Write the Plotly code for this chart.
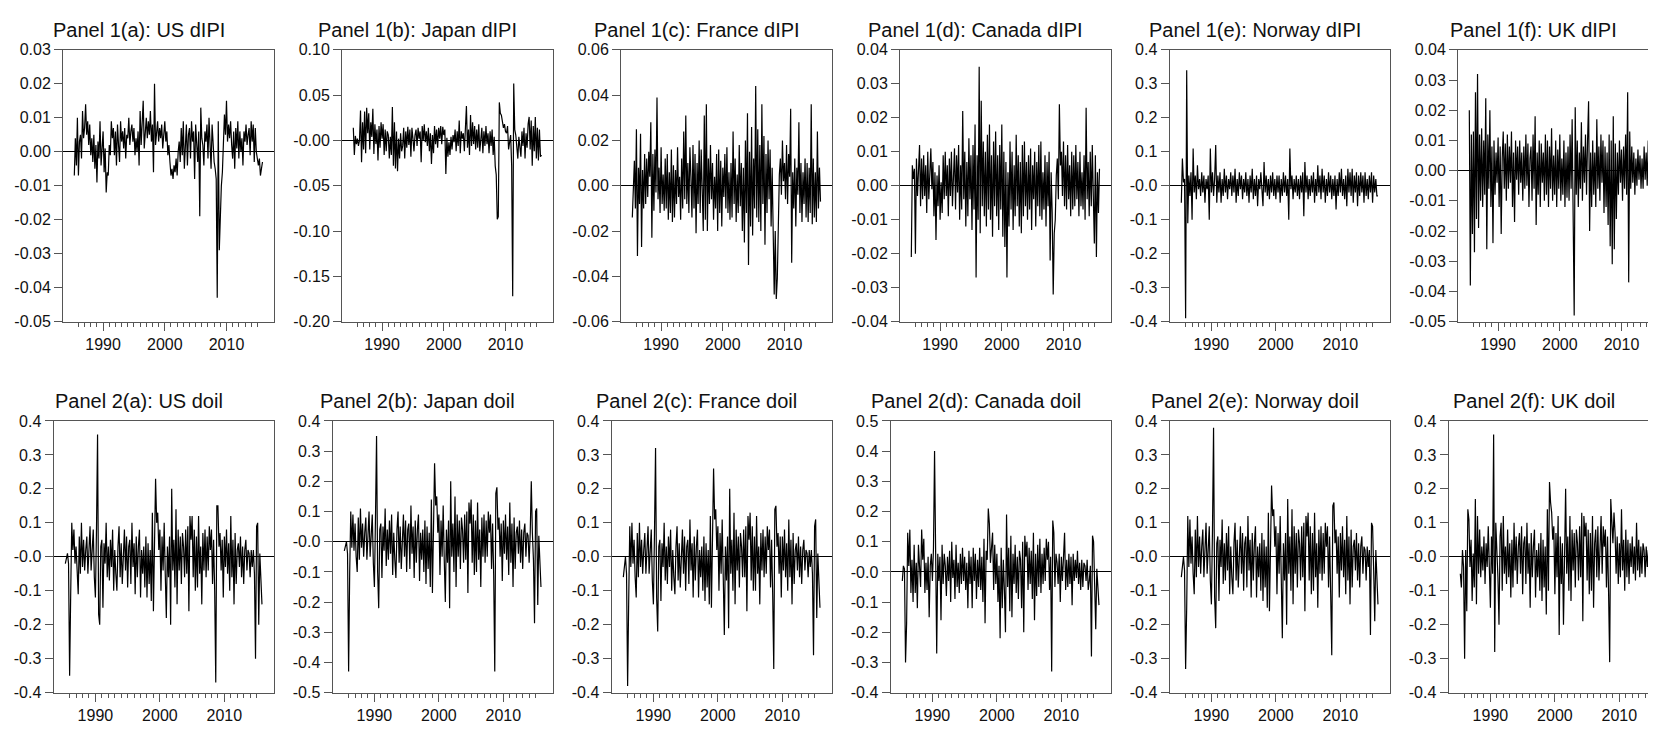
import plotly.graph_objects as go

# The page body keeps the browser's default 8px margin, so the figure is sized to
# fill the rest of the 1656x730 window and all pixel geometry is offset by 8.
PAGE_W, PAGE_H = 1656, 730
BODY_MARGIN = 8
FIG_W, FIG_H = PAGE_W - BODY_MARGIN, PAGE_H - BODY_MARGIN

# ---------------- data (sampled every 2 months from mid-1985) ----------------
START_YEAR = 1985 + 4 / 12
STEP_YEARS = 2 / 12
X_RANGE = [1983.5, 2017.7]
MAJOR_YEARS = [1990, 2000, 2010]
MAJOR_LABELS = ["1990", "2000", "2010"]
MINOR_YEARS = list(range(1986, 2016))

titles = [
    "Panel 1(a): US dIPI", "Panel 1(b): Japan dIPI", "Panel 1(c): France dIPI",
    "Panel 1(d): Canada dIPI", "Panel 1(e): Norway dIPI", "Panel 1(f): UK dIPI",
    "Panel 2(a): US doil", "Panel 2(b): Japan doil", "Panel 2(c): France doil",
    "Panel 2(d): Canada doil", "Panel 2(e): Norway doil", "Panel 2(f): UK doil",
]

# dIPI series in units of 0.001 (Norway in 0.01)
us_dipi = [-7, 4, -4, 10, -7, 3, 5, -2, 12, 4, 7, 14,
           5, 9, 2, 8, -1, 4, -3, 5, -5, 2, -9, 3,
           -2, 9, -4, 3, 6, -6, 1, -12, -6, -7, 2, -1,
           9, 4, 7, -1, 6, -4, 8, 2, -3, 9, 3, 6,
           1, 7, -2, 5, 4, 10, 2, 6, 8, 3, 7, -1,
           4, 0, 6, -4, 12, 2, 8, 15, 1, 6, 10, 4,
           9, 5, 12, 3, 8, -6, 20, 2, 6, 9, 3, 7,
           4, 8, 1, 5, 9, 3, 6, -1, 2, -3, -7, -5,
           -8, -4, -6, -2, -7, 0, 3, -3, 7, -1, 9, -5,
           2, 8, -4, 5, 7, -2, 9, 3, 6, -8, 8, 2,
           -3, 6, -19, 13, 4, 2, -4, 6, 3, 8, -2, 10,
           4, -5, 8, 1, -3, -5, -8, -43, 9, -29, -15, -10,
           -6, 3, 11, 5, 15, 3, 8, 4, 9, 2, -2, 6,
           -5, 7, 1, 9, -2, 6, 0, 4, -4, 6, 3, 8,
           2, 5, 7, -1, 9, 3, 8, -3, 7, 0, -3, -4,
           -2, -7, -5, -3]
japan_dipi = [14, -16, 5, -4, 2, -6, 0, 33, -24, 20, -10, 32,
              -14, 36, 8, 30, -10, 20, 4, 35, -15, 18, -4, 12,
              -22, 16, -8, 20, 2, 18, -16, 12, -12, 10, 6, -20,
              4, -16, 37, -28, 20, -31, 10, -34, 2, -20, 8, -12,
              -6, 14, -20, 10, -8, 15, -5, 12, -18, 14, 2, -12,
              6, 12, -6, 14, 2, 10, -24, 16, 0, 18, -2, 10,
              -6, 14, -12, 8, -26, 6, -14, 16, -4, 12, -8, 14,
              2, 16, -4, 15, 6, 12, -37, 3, -18, -2, -16, 4,
              -10, 6, -2, 12, -12, 10, -6, 22, -14, 10, 2, 8,
              -12, 14, 38, -8, 12, -16, 28, -6, 20, -4, 16, -10,
              12, -8, 18, -12, 6, 14, -14, 10, -6, 16, -4, 8,
              -14, 10, -6, 12, -16, 4, -28, -38, -87, -84, 42, 30,
              28, 20, 14, 18, 10, 8, 16, -10, -4, 6, -28, -172,
              63, 12, 6, -10, -20, 4, -12, -18, 10, -6, 14, -20,
              8, -8, 18, 26, -10, 22, -28, 16, -12, 26, -20, 14,
              -22, 12, -18, -16]
france_dipi = [-14, 2, 11, -10, 25, -31, 8, -8, 23, -27, 7, -10,
               14, -8, 12, -5, 15, 4, 28, -23, 14, -11, 16, -3,
               39, -6, 8, -12, 17, -8, 5, -11, 12, -10, 14, -15,
               6, -12, 16, -16, 9, -14, 7, -8, 17, -5, 4, -15,
               12, -10, 24, -6, 31, -8, 10, -12, 17, 4, -14, 18,
               -10, 14, -21, 10, -8, 20, -12, 16, 2, -20, 31, -15,
               36, -20, 12, -8, 18, -6, 10, -15, 4, -10, 14, -20,
               16, -12, 11, -18, 8, -5, 14, -10, 17, -12, 6, -15,
               10, -14, 24, -8, 12, -16, 5, -12, 18, -9, 10, -20,
               8, -25, 20, -12, 32, -35, 15, -18, 26, -22, 12, -10,
               44, -14, 25, -16, 18, -20, 36, -8, 22, -26, 14, -12,
               20, -6, 16, -18, 8, -16, -48, -20, -50, -41, -15, 5,
               12, -4, 20, 2, 10, -6, 18, -8, 14, 4, 34, -34,
               6, -10, 12, -18, 8, -4, 28, -12, 10, -16, 6, -8,
               12, -14, 10, -16, 8, -12, 36, -17, 12, -14, 6, -16,
               24, -10, 8, -7]
canada_dipi = [-21, 6, 2, 5, -20, 8, -3, 4, 12, -6, 8, -4,
               9, -3, 6, -8, 10, -4, 3, 11, -1, 7, -9, 4,
               -16, 3, -6, 6, -10, 1, -8, 9, -4, 10, -3, 6,
               -9, 8, -3, 10, -6, 4, 11, -7, 9, -2, 12, -10,
               6, -7, 22, -4, 10, -12, 7, -9, 14, -4, 9, -13,
               12, -7, 18, -27, 9, -10, 35, -14, 25, -6, 13, -9,
               10, -12, 15, -7, 18, -10, 9, -15, 13, -6, 16, -9,
               9, -13, 12, -7, 18, -15, 10, -18, 7, -27, 4, -12,
               13, -7, 10, -13, 6, -9, 15, -6, 9, -12, 7, -14,
               12, -9, 13, -6, 7, -10, 9, -7, 11, -13, 6, -4,
               10, -12, 7, -6, 12, -9, 13, -10, 4, -7, 9, -12,
               7, -6, 10, -22, 4, -8, -32, -14, -10, 3, 8, -4,
               24, 6, 10, -3, 13, -6, 9, -7, 12, -4, 6, -9,
               10, -7, 9, -6, 12, -4, 7, -9, 10, -6, 4, -7,
               9, -10, 23, -4, 7, -9, 10, -6, 12, -3, -17, 9,
               -21, 4, -8, 5]
norway_dipi = [-5, 8, 1, 2, -39, 34, -11, 3, -3, 4, -10, 11,
               -2, 3, -4, 6, -1, 2, -3, 4, -2, 3, -5, 2,
               -1, 3, -10, 11, -2, 4, -3, 2, 12, -5, 3, -2,
               4, -5, 2, -3, 5, -2, 3, -4, 2, -1, 4, -3,
               3, -2, 5, -5, 2, -3, 4, -1, 3, -4, 2, -2,
               4, -3, 2, -5, 3, -2, 5, -4, 2, -3, 3, -6,
               2, -1, 4, -3, -6, 7, -2, 3, -3, 2, -4, 3,
               -2, 4, -3, 2, -4, 3, -2, 3, -5, 2, -3, 4,
               -2, 3, -3, 2, -10, 11, -1, 3, -4, 2, -2, 3,
               -3, 2, -4, 3, -2, 4, -9, 7, -2, 3, -4, 2,
               -3, 3, -2, 4, -5, 2, -3, 6, -2, 3, -4, 5,
               -2, 3, -5, 2, -3, 4, -2, 3, -4, 2, -3, 3,
               -7, 2, -3, 4, -2, 5, -3, 2, -4, 3, -6, 5,
               -2, 4, -3, 5, -5, 3, -2, 4, -6, 3, -3, 4,
               -2, 3, -5, 4, -3, 2, -4, 3, -2, 4, -5, 3,
               -2, 2, -3, -3]
uk_dipi = [20, -38, 12, -21, 13, -27, 26, -16, 32, -19, 12, -10,
           14, -12, 10, -8, 24, -26, 12, -6, 20, -12, 8, -24,
           10, -8, 6, -4, 11, -12, 8, -21, 4, 13, -6, 9,
           -10, 12, -6, 8, -4, 13, -12, 6, -17, 10, -3, 8,
           -8, 10, -4, 6, -10, 8, -6, 12, -5, 9, -12, 4,
           8, -10, 12, -6, 18, -18, 6, -8, 10, -12, 9, -4,
           6, -10, 12, -8, 10, -12, 8, -6, 14, -10, 5, -8,
           10, -12, 7, -6, 12, -10, 4, -8, 10, -12, 6, -9,
           8, -10, 12, -6, 17, -12, -48, 21, -8, 10, -12, 6,
           -6, 16, -10, 8, -4, 12, -8, 10, 23, -20, 6, -12,
           10, -8, 6, -12, 17, -6, 8, -10, 12, -4, 10, -14,
           8, -12, 6, -18, 12, -25, 10, -31, 18, -26, 9, -16,
           6, -8, 10, -4, 7, -10, 8, -6, 12, -8, 26, -37,
           13, -6, 8, -4, 6, -8, 4, -5, 7, -3, 5, -6,
           4, -6, 8, -3, 6, -5, 10, -7, 4, -4, 6, -2,
           5, -3, 4, -2]

# doil series in units of 0.01
us_doil = [-2, 0, 1, -2, -35, -11, 10, 2, 8, -2, 3, -4,
           -11, 6, -5, 10, -3, 5, -4, 2, 6, -5, 3, 9,
           -4, 2, 8, -6, -12, 8, 36, -17, -20, 3, 5, -15,
           4, -2, 10, -6, 3, -7, 5, -3, 8, -10, 2, -5,
           -10, 3, 9, -6, 4, -8, 2, 8, -4, 6, -9, 3,
           5, -8, 10, -3, 4, -11, 6, -6, 3, 8, -12, 2,
           -5, 3, -9, 6, -12, 4, -8, 2, -13, 13, -16, 11,
           23, 10, 13, 2, 8, -10, 6, -4, 10, -5, -18, 3,
           -6, 6, -20, 20, -4, 5, -9, 14, -14, 8, -4, 6,
           -8, 7, 3, -6, 8, -5, 9, -16, 12, 5, 12, -6,
           8, -10, 6, -9, 12, -5, 3, -14, 7, -4, 8, -6,
           6, -4, 9, 2, 8, -8, 5, -10, -37, 15, 15, 3,
           7, -4, 5, -12, 6, -3, 8, -5, 4, -10, 12, -6,
           5, -14, 7, -8, 2, 4, -3, 6, -6, 3, -8, 2,
           5, -4, 2, 1, -6, 2, -3, 2, -5, -30, 9, 10,
           -20, 1, -8, -14]
japan_doil = [-3, -1, 0, -4, -43, -10, 10, -2, 9, -3, 6, -5,
              -10, 8, -6, 11, -2, 6, -5, 3, 8, -6, 2, 10,
              -5, 3, 9, -7, -15, 8, 35, -10, -22, 4, 6, -12,
              5, -3, 11, -8, 4, -6, 7, -4, 9, -11, 3, -6,
              -12, 4, 10, -7, 5, -9, 3, 9, -5, 7, -10, 4,
              6, -9, 12, -4, 5, -12, 7, -7, 4, 9, -13, 3,
              -6, 4, -10, 7, -14, 5, -9, 3, -15, 14, -17, 12,
              26, 12, 15, 3, 9, -11, 7, -5, 12, -6, -20, 4,
              -7, 7, -22, 20, -5, 6, -10, 15, -15, 9, -5, 7,
              -9, 8, 4, -7, 9, -6, 10, -17, 13, 6, 14, -7,
              9, -11, 7, -10, 13, -6, 4, -15, 8, -5, 9, -7,
              7, -5, 10, 3, 9, -9, 6, -11, -43, 16, 18, 4,
              8, -5, 6, -13, 7, -4, 9, -6, 5, -11, 13, -7,
              6, -15, 8, -9, 3, 5, -4, 7, -7, 4, -9, 3,
              6, -5, 3, 2, -7, 3, 20, 3, -6, -27, 10, 11,
              -21, 2, -9, -15]
france_doil = [-6, -3, 0, -5, -38, -13, 9, -3, 10, -2, 5, -6,
               -12, 7, -6, 10, -3, 5, -5, 2, 7, -5, 3, 9,
               -5, 2, 8, -7, -14, 7, 32, -12, -22, 3, 5, -13,
               4, -3, 10, -7, 3, -8, 6, -3, 8, -10, 2, -6,
               -11, 3, 9, -7, 4, -9, 2, 8, -5, 6, -10, 3,
               5, -8, 11, -4, 4, -12, 6, -7, 3, 8, -12, 2,
               -6, 3, -10, 6, -13, 4, -9, 2, -14, 12, -15, 10,
               26, 11, 14, 2, 9, -10, 7, -5, 11, -6, -23, 3,
               -7, 6, -21, 20, -5, 5, -10, 13, -14, 8, -4, 6,
               -9, 7, 3, -6, 8, -6, 9, -16, 12, 5, 13, -7,
               9, -10, 6, -10, 12, -5, 3, -14, 7, -4, 8, -6,
               6, -5, 9, 2, 8, -9, 5, -11, -33, 14, 15, 3,
               7, -5, 6, -12, 6, -4, 8, -6, 4, -10, 11, -6,
               5, -14, 7, -8, 2, 4, -4, 6, -6, 3, -8, 2,
               5, -4, 2, 1, -6, 2, -3, 2, -5, -29, 9, 11,
               -18, 1, -8, -15]
canada_doil = [-3, 2, 1, -30, -17, 13, 2, 14, -7, 4, -10, 9,
               -7, 3, -12, 9, 2, -5, 14, 4, 11, -7, 3, -6,
               5, -15, 2, 6, -3, 8, 40, -10, -27, 6, -3, 5,
               -16, 9, -4, 6, 2, -8, 5, -3, 7, -10, 10, -2,
               4, -9, 9, -5, 3, -7, 6, -4, 8, -3, 5, -6,
               3, -12, 7, -4, 5, -12, 8, -3, 6, -9, 4, -5,
               8, -6, 5, -10, 11, -17, 7, 4, 21, 16, 3, 8,
               13, -6, 9, -4, 6, -10, 2, -22, 8, -12, 4, -6,
               -20, 19, -5, 8, -13, 12, -15, 6, -4, 9, -7, 5,
               -9, 7, 4, -12, 10, -20, 12, 5, 10, -6, 8, -4,
               7, -9, 13, -16, 6, -8, 9, -5, 11, -7, 6, -4,
               8, -3, 11, 4, 10, -6, 5, -33, 17, 13, -5, 6,
               3, -4, 6, -10, 5, -3, 8, 13, -6, 4, -5, 6,
               -4, 5, -11, 6, -3, 4, -2, 7, -4, 3, -6, 4,
               -5, 3, 2, -3, 4, -6, -3, 2, -28, 12, 10, -4,
               -19, 1, -5, -11]
norway_doil = [-6, -2, 0, -4, -33, -15, 12, -3, 11, -2, 6, -5,
               -11, 8, -6, 12, -3, 6, -5, 3, 8, -6, 3, 10,
               -5, 3, 9, -7, -14, 8, 38, -12, -21, 4, 6, -13,
               5, -3, 11, -8, 4, -7, 7, -4, 9, -11, 3, -6,
               -11, 4, 10, -7, 5, -9, 3, 9, -5, 7, -10, 4,
               6, -9, 12, -4, 5, -12, 7, -7, 4, 9, -12, 3,
               -6, 4, -10, 7, -13, 5, -9, 3, -15, 13, -16, 11,
               21, 12, 14, 3, 9, -11, 7, -5, 12, -6, -24, 4,
               -7, 7, -20, 17, -5, 6, -10, 14, -14, 9, -5, 7,
               -9, 8, 4, -7, 9, -6, 10, -16, 12, 6, 13, -7,
               9, -11, 7, -10, 13, -6, 4, -15, 8, -5, 9, -7,
               7, -5, 10, 3, 9, -9, 6, -11, -29, 15, 16, 4,
               8, -5, 6, -12, 7, -4, 9, -6, 5, -11, 12, -7,
               6, -14, 8, -9, 3, 5, -4, 7, -7, 4, -9, 3,
               6, -5, 3, 2, -7, 3, -3, 2, -23, 10, 9, -4,
               -19, 2, -8, -14]
uk_doil = [-5, -9, 2, -3, -30, 2, -16, 14, 11, -3, 5, -13,
           1, -9, 17, -14, 12, -5, 8, -6, 3, -4, 6, -8,
           4, -3, 9, -9, -15, 6, -5, 36, -28, 10, 2, -6,
           -20, 6, 10, -10, 12, -5, 3, -8, 8, -6, 4, -12,
           5, -9, 10, -4, 6, -8, 3, 7, -5, 9, -11, 4,
           6, -8, 10, -5, 4, -15, 7, -6, 3, 8, -12, 2,
           -6, 4, -10, 7, -13, 5, -9, 3, -17, 14, -10, 22,
           16, 13, 5, 9, -11, 7, -6, 12, -23, 6, -8, 4,
           -20, 4, 20, -5, 6, -10, 12, -13, 8, -4, 7, -9,
           8, 4, -7, 9, -6, 13, -19, 12, 6, 10, -7, 8,
           -11, 7, -10, 12, -15, 4, 8, -6, 9, -7, 6, 12,
           -5, 9, 3, 8, -9, 6, -11, -31, 17, 10, 4, 13,
           7, -5, 6, -8, 4, -6, 14, -4, 5, -10, 8, -6,
           5, -8, 4, -3, 6, -5, 3, -7, 10, -4, 5, -6,
           3, -5, 4, 2, -6, 3, -3, 2, -29, 10, -21, 6,
           -12, 3, -8, -10]

series = [us_dipi, japan_dipi, france_dipi, canada_dipi, norway_dipi, uk_dipi,
          us_doil, japan_doil, france_doil, canada_doil, norway_doil, uk_doil]
units = [0.001, 0.001, 0.001, 0.001, 0.01, 0.001,
         0.01, 0.01, 0.01, 0.01, 0.01, 0.01]

# y tick values and labels per panel (top to bottom)
ytick_vals = [
    [0.03, 0.02, 0.01, 0.0, -0.01, -0.02, -0.03, -0.04, -0.05],
    [0.10, 0.05, 0.0, -0.05, -0.10, -0.15, -0.20],
    [0.06, 0.04, 0.02, 0.0, -0.02, -0.04, -0.06],
    [0.04, 0.03, 0.02, 0.01, 0.0, -0.01, -0.02, -0.03, -0.04],
    [0.4, 0.3, 0.2, 0.1, 0.0, -0.1, -0.2, -0.3, -0.4],
    [0.04, 0.03, 0.02, 0.01, 0.0, -0.01, -0.02, -0.03, -0.04, -0.05],
    [0.4, 0.3, 0.2, 0.1, 0.0, -0.1, -0.2, -0.3, -0.4],
    [0.4, 0.3, 0.2, 0.1, 0.0, -0.1, -0.2, -0.3, -0.4, -0.5],
    [0.4, 0.3, 0.2, 0.1, 0.0, -0.1, -0.2, -0.3, -0.4],
    [0.5, 0.4, 0.3, 0.2, 0.1, 0.0, -0.1, -0.2, -0.3, -0.4],
    [0.4, 0.3, 0.2, 0.1, 0.0, -0.1, -0.2, -0.3, -0.4],
    [0.4, 0.3, 0.2, 0.1, 0.0, -0.1, -0.2, -0.3, -0.4],
]
ytick_text = [
    ["0.03", "0.02", "0.01", "0.00", "-0.01", "-0.02", "-0.03", "-0.04", "-0.05"],
    ["0.10", "0.05", "-0.00", "-0.05", "-0.10", "-0.15", "-0.20"],
    ["0.06", "0.04", "0.02", "0.00", "-0.02", "-0.04", "-0.06"],
    ["0.04", "0.03", "0.02", "0.01", "0.00", "-0.01", "-0.02", "-0.03", "-0.04"],
    ["0.4", "0.3", "0.2", "0.1", "-0.0", "-0.1", "-0.2", "-0.3", "-0.4"],
    ["0.04", "0.03", "0.02", "0.01", "0.00", "-0.01", "-0.02", "-0.03", "-0.04", "-0.05"],
    ["0.4", "0.3", "0.2", "0.1", "-0.0", "-0.1", "-0.2", "-0.3", "-0.4"],
    ["0.4", "0.3", "0.2", "0.1", "-0.0", "-0.1", "-0.2", "-0.3", "-0.4", "-0.5"],
    ["0.4", "0.3", "0.2", "0.1", "-0.0", "-0.1", "-0.2", "-0.3", "-0.4"],
    ["0.5", "0.4", "0.3", "0.2", "0.1", "-0.0", "-0.1", "-0.2", "-0.3", "-0.4"],
    ["0.4", "0.3", "0.2", "0.1", "-0.0", "-0.1", "-0.2", "-0.3", "-0.4"],
    ["0.4", "0.3", "0.2", "0.1", "-0.0", "-0.1", "-0.2", "-0.3", "-0.4"],
]

# ---------------- styling / geometry ----------------
FONT = "Liberation Sans, Arial, sans-serif"
AXIS_COLOR = "#555555"
TICK_FONT = dict(family=FONT, size=16, color="#111111")


def fx(px):  # page x pixel -> figure paper fraction
    return (px - BODY_MARGIN) / FIG_W


def fy(py):  # page y pixel -> figure paper fraction (from bottom)
    return 1 - (py - BODY_MARGIN) / FIG_H


fig = go.Figure()
annotations = []
layout_axes = {}

for k in range(12):
    row, col = divmod(k, 6)
    n = k + 1
    xa = "x" if n == 1 else f"x{n}"
    ya = "y" if n == 1 else f"y{n}"
    xkey = "xaxis" if n == 1 else f"xaxis{n}"
    ykey = "yaxis" if n == 1 else f"yaxis{n}"

    right_px = 274 + 279 * col
    label_w = max(len(t) for t in ytick_text[k])
    width_px = 211 if label_w >= 5 else 220.5
    left_px = right_px - width_px
    top_px, bottom_px = (42.7, 321.0) if row == 0 else (422.7, 701.0)

    x_range = list(X_RANGE)
    clip_right = right_px > PAGE_W
    if clip_right:
        frac = (PAGE_W - left_px) / width_px
        x_range[1] = X_RANGE[0] + frac * (X_RANGE[1] - X_RANGE[0])
        dom_right = 1.0
    else:
        dom_right = fx(right_px)

    vals = series[k]
    ys = [v * units[k] for v in vals]
    xs = [START_YEAR + i * STEP_YEARS for i in range(len(vals))]

    fig.add_trace(go.Scatter(x=xs, y=ys, mode="lines", xaxis=xa, yaxis=ya,
                             line=dict(color="black", width=1.2),
                             hoverinfo="skip", showlegend=False))

    layout_axes[xkey] = dict(
        domain=[fx(left_px), dom_right], anchor=ya, range=x_range,
        showline=True, mirror=True, linecolor=AXIS_COLOR, linewidth=1,
        showgrid=False, zeroline=False,
        tickmode="array", tickvals=MAJOR_YEARS, ticktext=MAJOR_LABELS,
        ticks="outside", ticklen=8, tickwidth=1, tickcolor=AXIS_COLOR,
        tickfont=TICK_FONT,
        minor=dict(tickmode="array", tickvals=MINOR_YEARS, ticks="outside",
                   ticklen=4, tickwidth=1, tickcolor=AXIS_COLOR, showgrid=False),
    )
    layout_axes[ykey] = dict(
        domain=[fy(bottom_px), fy(top_px)], anchor=xa,
        range=[ytick_vals[k][-1], ytick_vals[k][0]],
        showline=True, mirror=(not clip_right), linecolor=AXIS_COLOR, linewidth=1,
        showgrid=False, zeroline=True, zerolinecolor="black", zerolinewidth=1,
        tickmode="array", tickvals=ytick_vals[k], ticktext=ytick_text[k],
        ticks="outside", ticklen=8, tickwidth=1, tickcolor=AXIS_COLOR,
        tickfont=TICK_FONT,
    )

    annotations.append(dict(
        text=titles[k], xref="paper", yref="paper",
        x=fx(right_px - 135.5), y=fy(top_px - 20.5),
        xanchor="center", yanchor="middle", showarrow=False,
        font=dict(family=FONT, size=20, color="#111111"),
    ))

fig.update_layout(
    width=FIG_W, height=FIG_H,
    margin=dict(l=0, r=0, t=0, b=0),
    paper_bgcolor="white", plot_bgcolor="white",
    annotations=annotations,
    showlegend=False,
    **layout_axes,
)

fig.write_html("out.html")
